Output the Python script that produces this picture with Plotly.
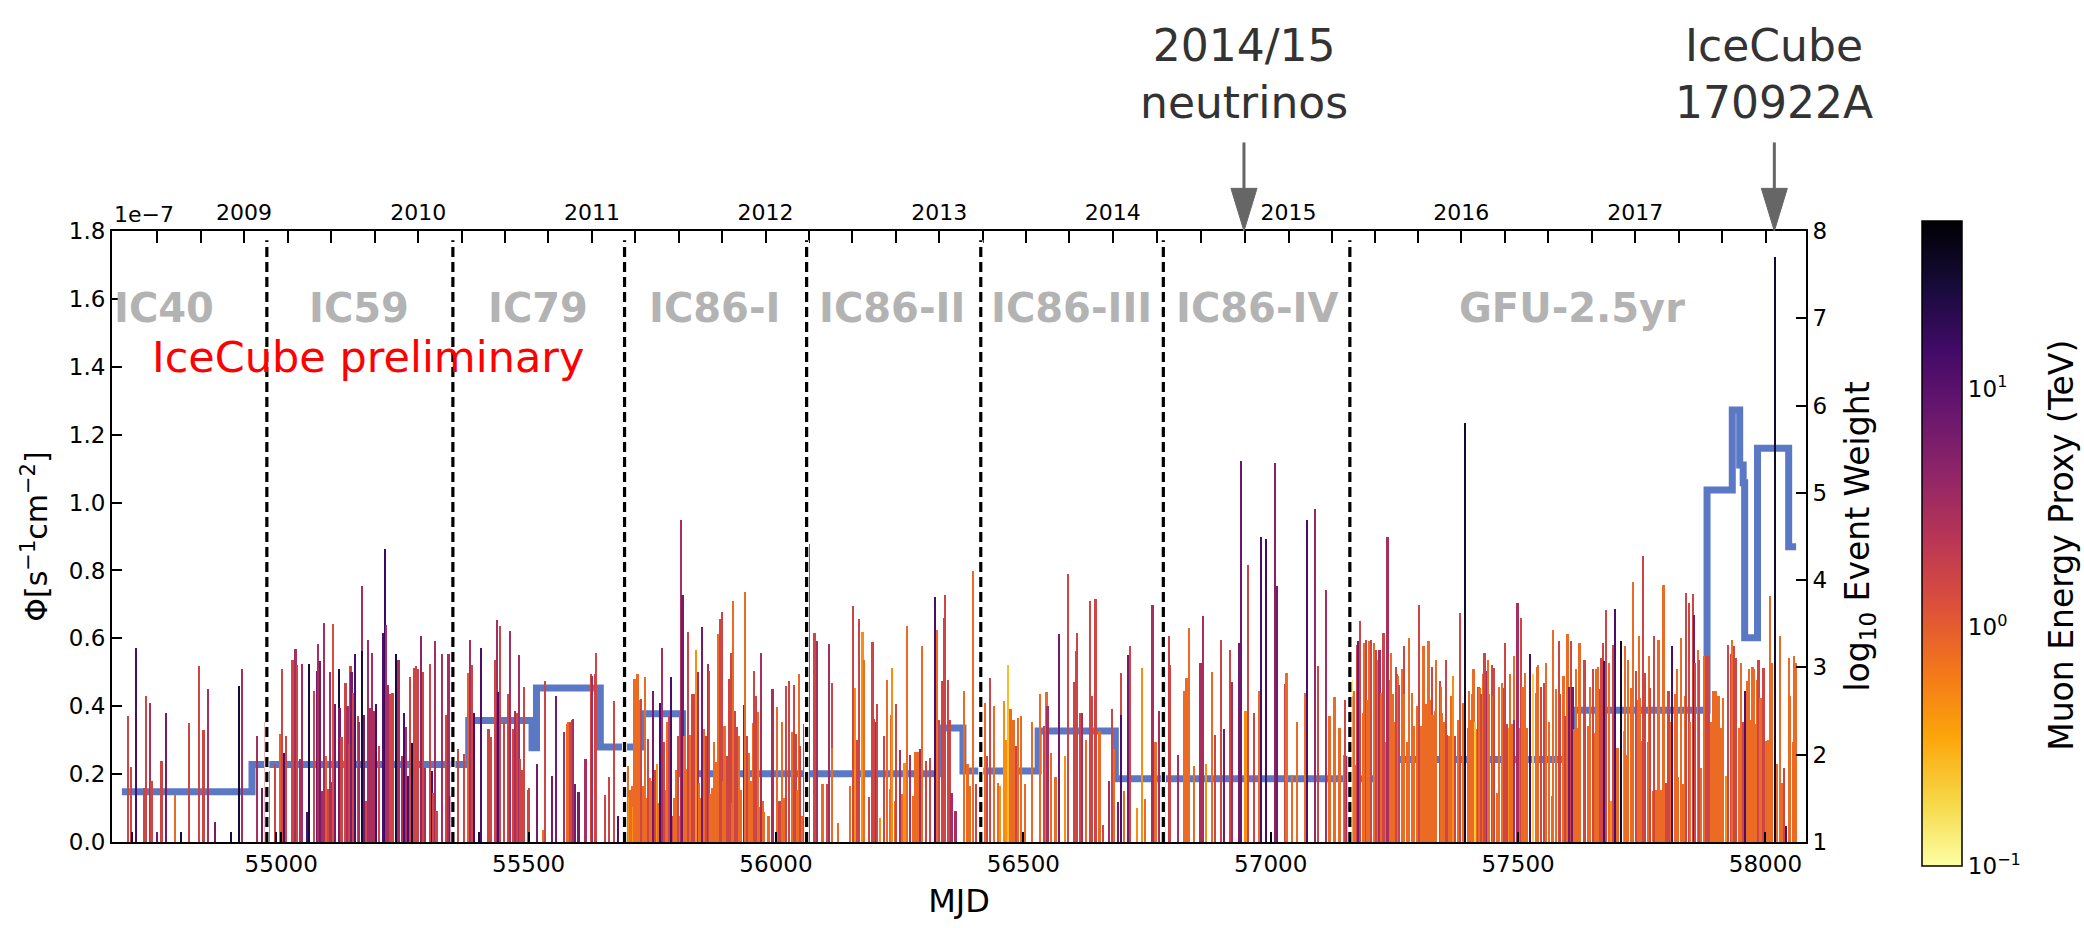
import numpy as np
import plotly.graph_objects as go

# ---------------- data ----------------
# events: (MJD, log10 event weight, muon energy proxy [TeV])
ic40_events = [
    (54690, 2.44, 1.6), (54696, 1.86, 1.6), (54698, 1.12, 27), (54706, 3.22, 12.6),
    (54723, 1.62, 1.6), (54727, 2.67, 1.6), (54735, 2.59, 3.1), (54738, 1.70, 1.6),
    (54749, 1.12, 6.5), (54758, 1.93, 1.6), (54767, 2.48, 6.5), (54785, 1.54, 0.8),
    (54797, 1.12, 27), (54814, 2.36, 1.6), (54834, 3.02, 1.6), (54843, 2.28, 1.6),
    (54852, 2.75, 3.1), (54867, 1.23, 6.5), (54898, 1.12, 27), (54914, 2.79, 27),
    (54921, 2.98, 3.1), (54951, 2.21, 3.1), (54961, 1.62, 6.5), (54967, 2.38, 1.6),
]
ic59_events = [
    (54971, 2.16, 0.8), (54976, 1.81, 3.1), (54988, 1.89, 1.6), (54990, 1.11, 27),
    (54998, 2.24, 1.0), (55001, 2.98, 1.6), (55005, 2.02, 12.6), (55009, 2.21, 1.6),
    (55023, 3.09, 1.6), (55029, 3.21, 3.1), (55032, 3.03, 1.6), (55038, 1.95, 3.1),
    (55042, 3.04, 3.1), (55052, 1.34, 12.6), (55057, 3.04, 27), (55066, 2.73, 1.6),
    (55067, 1.77, 1.6), (55072, 2.96, 6.5), (55075, 3.27, 3.1), (55078, 3.07, 6.5),
    (55083, 1.58, 3.1), (55087, 3.51, 3.1), (55091, 1.98, 1.0), (55094, 1.61, 1.6),
    (55099, 2.95, 3.1), (55103, 1.69, 3.1), (55105, 3.50, 1.3), (55108, 2.58, 6.5),
    (55116, 2.98, 27), (55118, 2.54, 6.5), (55122, 2.20, 1.6), (55130, 2.82, 1.6),
    (55134, 2.56, 3.1), (55138, 2.12, 1.6), (55140, 3.02, 1.6), (55142, 2.95, 6.5),
    (55145, 2.71, 1.6), (55149, 3.15, 12.6), (55155, 2.44, 1.6), (55158, 2.37, 3.1),
    (55163, 3.93, 3.1), (55164, 3.19, 27), (55167, 2.46, 6.5), (55171, 1.47, 1.6),
    (55176, 3.32, 3.1), (55180, 2.53, 3.1), (55184, 3.17, 3.1), (55188, 2.50, 3.1),
    (55191, 2.58, 12.6), (55197, 2.10, 1.6), (55205, 3.40, 12.6), (55209, 4.36, 16),
    (55211, 3.49, 3.1), (55215, 2.80, 3.1), (55221, 2.69, 1.6), (55225, 2.71, 1.6),
    (55232, 3.15, 27), (55237, 3.08, 3.1), (55244, 1.98, 3.1), (55248, 2.48, 12.6),
    (55252, 2.32, 3.1), (55256, 1.76, 12.6), (55260, 2.89, 1.6), (55264, 2.13, 27),
    (55268, 2.99, 1.6), (55272, 3.02, 1.6), (55276, 2.98, 1.6), (55283, 3.36, 4.5),
    (55287, 2.95, 1.6), (55291, 1.85, 3.1), (55301, 3.04, 1.6), (55304, 1.81, 12.6),
    (55307, 1.56, 1.6), (55311, 3.30, 3.1), (55314, 1.35, 1.6), (55325, 3.15, 3.1),
    (55334, 2.45, 1.6), (55338, 3.15, 3.1), (55342, 1.53, 6.5), (55346, 3.38, 3.1),
]
ic79_events = [
    (55357, 2.06, 1.6), (55370, 2.01, 1.6), (55377, 2.94, 1.0), (55381, 3.32, 3.1),
    (55385, 3.03, 1.6), (55389, 2.48, 12.6), (55400, 1.11, 27), (55404, 3.22, 12.6),
    (55419, 2.29, 1.6), (55424, 2.20, 1.6), (55432, 3.08, 1.6), (55436, 3.54, 3.1),
    (55439, 2.72, 12.6), (55443, 3.48, 1.6), (55451, 2.37, 1.6), (55459, 2.70, 1.6),
    (55463, 3.42, 3.1), (55468, 2.30, 1.6), (55472, 2.50, 3.1), (55476, 2.48, 1.6),
    (55480, 3.14, 3.1), (55482, 1.95, 1.6), (55486, 1.83, 1.6), (55490, 2.78, 1.6),
    (55498, 1.60, 1.6), (55501, 1.62, 1.6), (55517, 1.89, 6.5), (55529, 1.14, 0.8),
    (55534, 2.84, 1.6), (55547, 1.76, 6.5), (55556, 2.67, 6.5), (55572, 2.26, 3.1),
    (55577, 2.35, 0.8), (55580, 2.37, 0.8), (55584, 2.38, 1.6), (55587, 2.40, 1.6),
    (55590, 2.41, 3.1), (55594, 1.66, 6.5), (55601, 1.57, 6.5), (55615, 1.95, 3.1),
    (55626, 2.93, 1.6), (55629, 2.90, 3.1), (55634, 2.93, 1.6), (55637, 3.16, 1.6),
    (55654, 1.54, 1.6), (55662, 1.74, 1.6), (55672, 2.61, 1.6), (55681, 1.30, 12.6),
    (55691, 3.12, 6.5),
]
ic86_1_events = [
    (55697, 2.45, 1.6), (55700, 1.87, 0.8), (55703, 1.52, 0.47), (55705, 1.60, 0.8),
    (55707, 1.53, 0.8), (55710, 1.64, 0.8), (55712, 1.40, 0.47), (55714, 2.87, 0.8),
    (55717, 1.41, 0.8), (55720, 2.92, 0.8), (55722, 1.90, 0.8), (55724, 2.63, 0.8),
    (55728, 2.64, 1.6), (55732, 1.64, 0.8), (55735, 2.89, 0.8), (55738, 1.50, 0.8),
    (55741, 2.18, 1.6), (55745, 1.73, 0.8), (55748, 1.70, 0.8), (55751, 2.73, 6.5),
    (55755, 1.83, 1.6), (55759, 1.89, 0.47), (55762, 1.45, 0.8), (55765, 2.59, 12.6),
    (55769, 3.22, 3.1), (55774, 2.14, 1.6), (55777, 1.60, 0.8), (55780, 2.37, 0.8),
    (55783, 2.44, 1.6), (55788, 2.89, 12.6), (55792, 1.30, 1.6), (55795, 1.50, 0.8),
    (55798, 1.83, 0.8), (55802, 2.22, 1.6), (55806, 1.30, 0.8), (55808, 4.69, 3.1),
    (55811, 3.83, 6.5), (55815, 2.21, 0.8), (55819, 1.84, 0.8), (55823, 3.41, 1.6),
    (55827, 2.23, 0.8), (55830, 2.69, 1.6), (55834, 2.69, 1.6), (55838, 3.20, 0.47),
    (55842, 2.95, 3.1), (55845, 1.68, 0.8), (55848, 1.50, 0.8), (55850, 3.46, 6.5),
    (55855, 2.30, 0.8), (55859, 2.22, 1.6), (55862, 3.04, 3.1), (55865, 2.96, 1.6),
    (55867, 1.55, 0.8), (55870, 1.62, 0.8), (55875, 2.14, 0.8), (55880, 1.92, 0.8),
    (55884, 3.38, 0.8), (55887, 3.55, 1.6), (55891, 3.64, 1.6), (55893, 1.70, 0.8),
    (55896, 2.33, 0.8), (55901, 1.98, 1.6), (55905, 2.87, 1.6), (55909, 3.17, 1.6),
    (55911, 1.45, 0.8), (55913, 3.76, 0.8), (55917, 2.50, 1.6), (55921, 2.32, 1.6),
    (55925, 2.21, 0.8), (55929, 1.60, 0.8), (55935, 2.57, 6.5), (55937, 3.86, 0.8),
    (55941, 2.21, 1.6), (55946, 2.02, 0.8), (55950, 1.70, 0.8), (55953, 2.36, 0.8),
    (55956, 2.96, 1.6), (55960, 2.67, 1.6), (55964, 2.49, 0.8), (55967, 1.40, 0.8),
    (55969, 3.16, 3.1), (55973, 1.47, 0.8), (55976, 1.34, 0.8), (55985, 1.30, 0.8),
    (55993, 2.75, 3.1), (56002, 2.55, 0.8), (56007, 1.47, 1.6), (56012, 2.37, 0.8),
    (56016, 1.50, 0.8), (56020, 2.79, 1.6), (56027, 2.85, 1.6), (56032, 2.26, 0.8),
    (56036, 2.80, 1.6), (56040, 2.24, 1.6), (56043, 1.60, 0.8), (56046, 2.92, 0.8),
    (56049, 2.10, 1.6), (56053, 1.30, 0.8), (56057, 2.35, 1.6),
]
ic86_2_events = [
    (56067, 4.41, 3.1), (56078, 3.40, 1.6), (56083, 3.30, 3.1), (56094, 1.66, 0.8),
    (56103, 1.66, 1.6), (56108, 3.27, 3.1), (56113, 2.82, 1.6), (56114, 2.08, 0.8),
    (56126, 1.22, 0.8), (56150, 1.64, 0.8), (56155, 3.70, 1.6), (56159, 2.77, 0.47),
    (56164, 2.17, 1.6), (56168, 3.55, 1.6), (56175, 3.41, 0.47), (56178, 3.09, 0.8),
    (56188, 1.51, 1.6), (56195, 3.29, 1.6), (56199, 2.41, 1.6), (56202, 2.38, 3.1),
    (56205, 2.58, 1.6), (56211, 1.27, 0.47), (56218, 2.21, 1.6), (56225, 2.86, 0.8),
    (56230, 1.61, 0.8), (56233, 2.46, 0.8), (56235, 2.99, 0.47), (56240, 1.47, 0.8),
    (56243, 2.58, 1.6), (56250, 2.05, 3.1), (56255, 1.55, 0.8), (56260, 1.91, 0.47),
    (56265, 3.47, 0.8), (56271, 2.00, 3.1), (56278, 1.53, 0.8), (56282, 2.03, 0.8),
    (56287, 2.03, 0.8), (56292, 2.06, 3.1), (56296, 3.25, 0.8), (56303, 1.93, 1.6),
    (56311, 1.96, 1.6), (56321, 3.81, 12.6), (56325, 3.43, 0.8), (56329, 2.40, 1.6),
    (56336, 2.84, 1.6), (56339, 3.57, 1.6), (56342, 3.83, 1.6), (56347, 2.86, 1.6),
    (56351, 2.40, 1.6), (56355, 1.56, 3.1), (56363, 1.35, 3.1), (56380, 2.73, 0.8),
    (56387, 1.89, 0.8), (56392, 1.64, 0.8), (56398, 4.10, 0.8), (56404, 1.66, 1.6),
    (56412, 2.80, 0.8),
]
ic86_3_events = [
    (56417, 2.56, 1.6), (56422, 2.59, 0.8), (56426, 1.98, 1.6), (56433, 2.88, 1.6),
    (56440, 2.56, 0.8), (56448, 1.68, 0.8), (56453, 1.64, 0.47), (56461, 2.61, 0.47),
    (56466, 2.17, 0.47), (56469, 3.03, 0.25), (56474, 2.52, 0.8), (56480, 2.40, 0.8),
    (56486, 2.10, 1.6), (56490, 2.42, 0.8), (56495, 2.44, 0.8), (56503, 1.66, 0.8),
    (56517, 2.37, 0.8), (56533, 2.70, 0.8), (56542, 2.33, 1.6), (56547, 2.72, 0.8),
    (56549, 2.56, 3.1), (56556, 2.02, 0.8), (56565, 1.74, 0.8), (56572, 3.38, 6.5),
    (56585, 1.98, 0.47), (56591, 4.07, 1.6), (56603, 2.83, 1.6), (56607, 3.19, 1.6),
    (56609, 3.40, 1.6), (56614, 2.48, 1.6), (56618, 2.48, 3.1), (56626, 2.17, 0.8),
    (56634, 3.76, 1.6), (56638, 2.67, 1.6), (56646, 3.78, 1.6), (56654, 2.27, 0.8),
    (56661, 1.20, 1.6), (56673, 1.70, 3.1), (56679, 2.52, 1.6), (56684, 2.07, 0.8),
    (56691, 1.46, 6.5), (56697, 2.94, 1.6), (56698, 2.45, 12.6), (56704, 1.58, 0.8),
    (56711, 3.14, 6.5), (56716, 3.25, 1.6), (56729, 1.39, 0.47), (56740, 2.99, 0.47),
    (56746, 1.49, 0.8), (56761, 3.71, 3.1), (56767, 2.14, 0.8), (56774, 2.50, 3.1),
    (56780, 3.09, 1.6),
]
ic86_4_events = [
    (56786, 2.98, 0.8), (56794, 3.36, 1.6), (56796, 3.03, 1.6), (56812, 2.00, 3.1),
    (56825, 2.73, 0.8), (56830, 2.88, 0.8), (56835, 3.45, 0.8), (56845, 1.87, 0.8),
    (56858, 3.05, 3.1), (56864, 3.59, 3.1), (56869, 1.89, 0.47), (56881, 2.95, 0.8),
    (56888, 2.23, 1.6), (56899, 3.31, 1.6), (56905, 2.29, 6.5), (56917, 3.20, 1.6),
    (56921, 2.83, 3.1), (56937, 3.28, 6.5), (56940, 5.37, 8.0), (56949, 2.50, 0.47),
    (56954, 4.17, 1.6), (56967, 2.48, 1.6), (56977, 2.73, 0.8), (56981, 4.50, 12.6),
    (56990, 4.47, 14.0), (57009, 5.34, 5.0), (57013, 3.93, 6.5), (57029, 2.81, 1.6),
    (57032, 2.94, 0.8), (57043, 1.77, 0.8), (57054, 2.38, 0.8), (57069, 2.71, 0.8),
    (57073, 4.69, 12.6), (57090, 4.81, 4.0), (57096, 3.02, 1.6), (57112, 3.89, 3.1),
    (57119, 2.44, 0.8), (57129, 2.66, 0.8), (57139, 2.31, 0.8), (57148, 2.00, 0.8),
    (57150, 2.63, 1.6), (57154, 1.98, 3.1),
]
gfu_events = [
    (57164, 2.86, 0.19), (57167, 2.67, 0.8), (57168, 2.73, 0.8), (57172, 1.88, 0.8),
    (57175, 3.26, 1.6), (57177, 3.30, 6.5), (57181, 3.53, 1.6), (57186, 2.48, 0.8),
    (57188, 3.28, 0.8), (57193, 3.32, 1.6), (57195, 2.63, 0.8), (57198, 3.30, 0.8),
    (57199, 2.96, 0.8), (57203, 3.32, 1.6), (57208, 3.28, 0.8), (57213, 3.20, 1.6),
    (57218, 3.09, 0.8), (57220, 3.20, 3.1), (57223, 2.71, 0.8), (57228, 3.40, 1.6),
    (57233, 2.14, 0.8), (57236, 4.50, 3.1), (57242, 2.86, 0.8), (57243, 3.17, 0.8),
    (57247, 2.69, 0.8), (57250, 2.37, 0.8), (57253, 3.01, 1.6), (57255, 2.92, 1.6),
    (57258, 2.90, 0.8), (57260, 2.80, 1.6), (57265, 2.98, 0.8), (57269, 3.24, 1.6),
    (57270, 2.69, 0.8), (57275, 2.14, 0.8), (57279, 3.34, 0.8), (57285, 2.44, 1.6),
    (57286, 2.71, 0.8), (57290, 2.33, 0.8), (57296, 2.56, 0.8), (57299, 3.72, 1.6),
    (57304, 2.33, 0.8), (57309, 3.24, 0.8), (57314, 2.58, 0.8), (57319, 3.30, 0.8),
    (57323, 2.63, 0.8), (57326, 3.01, 1.6), (57327, 2.46, 0.8), (57332, 2.50, 0.8),
    (57334, 3.09, 0.8), (57342, 2.84, 1.6), (57344, 2.78, 0.8), (57346, 2.48, 0.8),
    (57351, 2.37, 0.8), (57354, 3.09, 1.6), (57356, 2.23, 1.6), (57361, 2.21, 0.8),
    (57365, 2.67, 0.8), (57368, 2.90, 0.47), (57373, 2.21, 1.6), (57378, 2.40, 0.8),
    (57383, 3.62, 1.6), (57388, 2.59, 0.8), (57392, 5.80, 30.0), (57398, 2.31, 0.8),
    (57400, 2.73, 0.8), (57404, 2.40, 0.8), (57408, 2.69, 0.8), (57410, 2.98, 0.8),
    (57413, 2.38, 0.22), (57417, 2.29, 0.8), (57420, 2.78, 1.6), (57422, 2.77, 0.8),
    (57426, 2.69, 1.6), (57430, 2.92, 0.8), (57432, 3.17, 1.6), (57437, 2.96, 3.1),
    (57440, 3.09, 0.8), (57442, 2.69, 0.8), (57447, 3.03, 1.6), (57450, 2.67, 0.8),
    (57452, 2.99, 1.6), (57457, 1.56, 0.8), (57461, 2.78, 0.8), (57462, 1.53, 0.8),
    (57468, 2.82, 0.8), (57472, 2.77, 1.6), (57474, 3.28, 1.6), (57477, 2.35, 1.6),
    (57482, 2.31, 0.47), (57484, 2.92, 0.8), (57487, 2.35, 0.8), (57491, 3.13, 0.8),
    (57492, 2.40, 3.1), (57499, 3.74, 3.1), (57505, 2.31, 0.8), (57506, 3.57, 1.6),
    (57509, 2.78, 0.8), (57514, 2.94, 0.8), (57518, 2.31, 0.8), (57524, 3.15, 12.6),
    (57531, 2.92, 0.19), (57536, 2.71, 0.8), (57538, 3.01, 0.8), (57541, 3.03, 0.8),
    (57546, 2.78, 1.6), (57552, 2.82, 1.6), (57556, 2.77, 0.8), (57557, 3.05, 0.8),
    (57563, 2.37, 0.8), (57568, 1.53, 0.8), (57570, 3.43, 0.8), (57577, 2.75, 0.8),
    (57582, 3.30, 1.6), (57585, 2.69, 1.6), (57592, 2.90, 0.8), (57595, 2.44, 1.6),
    (57600, 3.38, 0.8), (57603, 2.78, 6.5), (57607, 3.30, 1.6), (57610, 2.78, 6.5),
    (57614, 2.29, 0.8), (57617, 2.98, 0.8), (57621, 2.31, 0.8), (57624, 3.28, 0.8),
    (57625, 3.01, 0.8), (57633, 3.09, 1.6), (57635, 3.09, 1.6), (57641, 2.33, 0.8),
    (57645, 2.78, 0.8), (57651, 2.98, 1.6), (57656, 2.25, 0.8), (57658, 2.98, 0.8),
    (57661, 3.00, 0.8), (57666, 2.75, 1.6), (57668, 3.11, 1.6), (57671, 3.28, 1.6),
    (57674, 3.07, 12.6), (57678, 3.66, 1.6), (57683, 3.05, 0.8), (57689, 1.47, 0.47),
    (57693, 3.26, 1.6), (57696, 3.67, 12.6), (57701, 2.08, 0.8), (57708, 3.30, 30.0),
    (57714, 2.27, 0.47), (57716, 3.24, 0.8), (57718, 2.00, 0.8), (57723, 3.09, 0.8),
    (57728, 2.77, 0.8), (57733, 3.98, 0.8), (57738, 2.96, 1.6), (57742, 2.63, 0.8),
    (57744, 3.36, 0.8), (57747, 2.65, 0.8), (57751, 2.16, 0.8), (57753, 4.28, 1.6),
    (57757, 2.94, 1.6), (57762, 2.14, 0.8), (57764, 3.13, 0.8), (57767, 2.77, 1.6),
    (57772, 1.58, 0.8), (57774, 3.36, 1.6), (57778, 1.60, 0.8), (57784, 3.32, 0.8),
    (57789, 1.60, 0.8), (57794, 3.95, 0.8), (57799, 1.68, 1.6), (57804, 2.73, 1.6),
    (57809, 2.38, 0.8), (57811, 3.24, 12.6), (57817, 2.69, 0.8), (57821, 2.98, 0.8),
    (57823, 1.74, 0.8), (57829, 3.34, 0.8), (57833, 1.66, 0.8), (57838, 2.67, 0.8),
    (57840, 3.85, 1.6), (57845, 3.74, 1.6), (57848, 2.38, 0.8), (57853, 3.84, 1.6),
    (57856, 3.60, 6.5), (57858, 3.05, 1.6), (57863, 3.20, 0.8), (57865, 3.09, 1.6),
    (57869, 1.85, 0.8), (57875, 3.13, 0.8), (57880, 3.13, 1.6), (57885, 3.13, 1.6),
    (57890, 2.38, 0.8), (57895, 2.73, 0.8), (57900, 2.73, 0.8), (57905, 2.67, 0.8),
    (57910, 2.31, 0.8), (57915, 2.65, 0.8), (57920, 1.76, 0.47), (57925, 3.26, 1.6),
    (57930, 3.15, 1.6), (57933, 3.32, 0.8), (57936, 3.24, 1.6), (57941, 3.11, 1.6),
    (57947, 2.31, 0.8), (57951, 3.05, 0.8), (57955, 2.38, 1.6), (57959, 2.73, 12.6),
    (57963, 2.84, 0.8), (57966, 2.98, 0.8), (57970, 2.40, 0.8), (57974, 3.00, 0.8),
    (57976, 2.98, 0.8), (57979, 2.35, 0.8), (57984, 2.86, 0.8), (57986, 3.09, 1.6),
    (57990, 2.65, 0.8), (57996, 2.99, 1.6), (58001, 2.16, 0.8), (58006, 2.17, 0.8),
    (58009, 3.82, 0.8), (58014, 3.05, 0.8), (58019, 7.70, 30.0), (58023, 1.89, 0.8),
    (58029, 3.36, 0.8), (58033, 1.68, 0.8), (58037, 1.85, 1.6), (58042, 1.18, 12.6),
    (58047, 3.11, 0.8), (58050, 2.67, 0.8), (58055, 2.14, 0.8), (58057, 3.13, 0.8),
    (58062, 3.05, 0.8),
]

# Flux step function (change points in MJD, flux in units of 1e-7 s^-1 cm^-2)
flux_mjd = [54678, 54941, 55379, 55507, 55516, 55645, 55727, 55811, 56333, 56378,
            56530, 56686, 57220, 57611, 57882, 57933, 57948, 57955, 57958, 57984,
            58047, 58062]
flux_val = [0.148, 0.228, 0.358, 0.278, 0.454, 0.280, 0.378, 0.201, 0.336, 0.209,
            0.327, 0.186, 0.243, 0.388, 1.037, 1.273, 1.111, 1.058, 0.602, 1.160,
            0.870]

season_edges = [54971, 55347, 55694, 56062, 56414, 56783, 57160]
season_names = ["IC40", "IC59", "IC79", "IC86-I", "IC86-II", "IC86-III", "IC86-IV", "GFU-2.5yr"]
season_label_mjd = [54763, 55158, 55519, 55876, 56235, 56598, 56973, 57610]

year_labels = ["2009", "2010", "2011", "2012", "2013", "2014", "2015", "2016", "2017"]
year_mjd = [54925, 55277, 55628, 55979, 56330, 56681, 57036, 57385, 57737]

mjd_ticks = [55000, 55500, 56000, 56500, 57000, 57500, 58000]
flux_ticks = [0.0, 0.2, 0.4, 0.6, 0.8, 1.0, 1.2, 1.4, 1.6, 1.8]
weight_ticks = [1, 2, 3, 4, 5, 6, 7, 8]

markers_mjd = [56946, 58018]
markers_text = ["2014/15<br>neutrinos", "IceCube<br>170922A"]

x_range = [54658, 58082]

# ---------------- figure ----------------
events = (ic40_events + ic59_events + ic79_events + ic86_1_events + ic86_2_events
          + ic86_3_events + ic86_4_events + gfu_events)
ev_mjd = [e[0] for e in events]
ev_w = [e[1] for e in events]
ev_logE = list(np.log10([e[2] for e in events]))

inferno = ['#000004', '#160b39', '#420a68', '#6a176e', '#932667', '#bc3754',
           '#dd513a', '#f37819', '#fca50a', '#f6d746', '#fcffa4']
cscale = [[i / 10, inferno[10 - i]] for i in range(11)]

FONT = "DejaVu Sans, sans-serif"
PLOT_W, PLOT_L, PLOT_B, PLOT_H = 1694, 112, 842.7, 612

fig = go.Figure()

fig.add_trace(go.Scatter(
    x=flux_mjd, y=flux_val + [flux_val[-1]], mode="lines",
    line=dict(shape="hv", color="#5a78c4", width=7),
    xaxis="x", yaxis="y", showlegend=False, hoverinfo="skip"))

fig.add_trace(go.Bar(
    x=ev_mjd, y=[w - 1 for w in ev_w], base=1, width=4.4,
    marker=dict(color=ev_logE, colorscale=cscale, cmin=-1, cmax=1.7,
                line=dict(width=0),
                colorbar=dict(
                    x=(1922 - PLOT_L) / PLOT_W, xanchor="left", xpad=0,
                    y=(PLOT_B - 544) / PLOT_H, yanchor="middle", ypad=0,
                    len=(867 - 221) / PLOT_H, lenmode="fraction",
                    thickness=40, thicknessmode="pixels",
                    outlinewidth=1.5, outlinecolor="black",
                    tickvals=[-1, 0, 1],
                    ticktext=["10<sup>−1</sup>", "10<sup>0</sup>", "10<sup>1</sup>"],
                    ticks="", tickfont=dict(size=23, color="black", family=FONT))),
    xaxis="x2", yaxis="y2", showlegend=False, hoverinfo="skip"))

# top axis: labels at the year positions, minor ticks every quarter in between
step = (year_mjd[-1] - year_mjd[0]) / (len(year_mjd) - 1)
yrs_ext = [year_mjd[0] - step] + year_mjd + [year_mjd[-1] + step]
quarter_vals = []
for i in range(len(yrs_ext) - 1):
    for k in range(1, 4):
        v = yrs_ext[i] + k * (yrs_ext[i + 1] - yrs_ext[i]) / 4
        if x_range[0] + 10 < v < x_range[1] - 5:
            quarter_vals.append(v)

axis_common = dict(showline=True, linecolor="black", linewidth=2, showgrid=False,
                   zeroline=False, ticks="inside", tickcolor="black", tickwidth=1.5)

fig.update_layout(
    width=2084, height=928, autosize=False,
    margin=dict(l=112, r=278, t=231, b=86),
    paper_bgcolor="white", plot_bgcolor="white",
    font=dict(family=FONT, color="black"),
    barmode="overlay", bargap=0,
    xaxis=dict(range=x_range, tickvals=mjd_ticks, ticktext=[str(v) for v in mjd_ticks],
               ticklen=10, tickfont=dict(size=23),
               title=dict(text="MJD", font=dict(size=32), standoff=14),
               **axis_common),
    xaxis2=dict(range=x_range, overlaying="x", side="top", anchor="y",
                tickvals=year_mjd, ticktext=year_labels, ticklen=12,
                tickfont=dict(size=22),
                minor=dict(tickvals=quarter_vals, ticks="inside", ticklen=12,
                           tickwidth=1.5, tickcolor="black", showgrid=False),
                **axis_common),
    yaxis=dict(range=[0, 1.8], tickvals=flux_ticks,
               ticktext=[f"{v:.1f}" for v in flux_ticks], ticklen=10,
               tickfont=dict(size=23),
               title=dict(text="Φ[s<sup>−1</sup>cm<sup>−2</sup>]", font=dict(size=30), standoff=12),
               **axis_common),
    yaxis2=dict(range=[1, 8], overlaying="y", side="right", anchor="x2",
                tickvals=weight_ticks, ticktext=[str(v) for v in weight_ticks],
                ticklen=10, tickfont=dict(size=23),
                title=dict(text="log<sub>10</sub> Event Weight", font=dict(size=33), standoff=20),
                **axis_common),
)

# colorbar title, placed like the reference (rotated, right of the tick labels)
fig.add_annotation(x=(2062 - PLOT_L) / PLOT_W, y=(PLOT_B - 546) / PLOT_H,
                   xref="paper", yref="paper", text="Muon Energy Proxy (TeV)",
                   textangle=-90, showarrow=False, xanchor="center", yanchor="middle",
                   font=dict(size=33, color="black", family=FONT))

# season boundaries (dashed)
for m in season_edges:
    fig.add_shape(type="line", xref="x", yref="paper", x0=m, x1=m, y0=0, y1=0.985,
                  line=dict(color="white", width=5), layer="above")
    fig.add_shape(type="line", xref="x", yref="paper", x0=m, x1=m, y0=0, y1=0.985,
                  line=dict(color="black", width=3.2, dash="10px,5px"), layer="above")

# season labels
for name, m in zip(season_names, season_label_mjd):
    fig.add_annotation(x=m, y=1.573, xref="x", yref="y", text=f"<b>{name}</b>",
                       showarrow=False, font=dict(size=40, color="#b3b3b3", family=FONT))

fig.add_annotation(x=55176, y=1.428, xref="x", yref="y", text="IceCube preliminary",
                   showarrow=False, font=dict(size=43, color="red", family=FONT))

fig.add_annotation(x=0, y=1, xref="paper", yref="paper", text="1e−7", showarrow=False,
                   xanchor="left", yanchor="bottom", yshift=2,
                   font=dict(size=22, color="black", family=FONT))

# arrows + marker texts
tip = 1.0
head_base = (PLOT_B - 188) / PLOT_H
tail = (PLOT_B - 142) / PLOT_H
for m, txt in zip(markers_mjd, markers_text):
    fig.add_shape(type="line", xref="x", yref="paper", x0=m, x1=m, y0=head_base, y1=tail,
                  line=dict(color="#666666", width=3))
    hw = 13 / 0.4947
    fig.add_shape(type="path", xref="x", yref="paper",
                  path=f"M {m - hw},{head_base} L {m + hw},{head_base} L {m},{tip} Z",
                  fillcolor="#666666", line=dict(color="#666666", width=1))
    fig.add_annotation(x=m, y=(PLOT_B - 73) / PLOT_H, xref="x", yref="paper", text=txt,
                       showarrow=False, yanchor="middle",
                       font=dict(size=44, color="#333333", family=FONT))

fig.write_html("out.html")
